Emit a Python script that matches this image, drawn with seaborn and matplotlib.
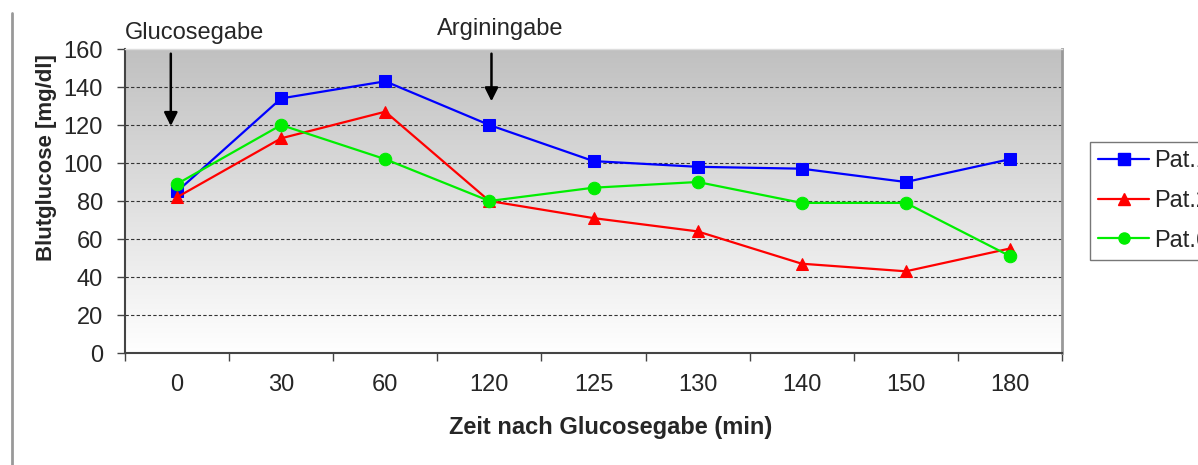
import numpy as np
import pandas as pd
import matplotlib
matplotlib.use("Agg")
import matplotlib.pyplot as plt
import seaborn as sns
from matplotlib.colors import LinearSegmentedColormap
from matplotlib.lines import Line2D

zeit = ["0", "30", "60", "120", "125", "130", "140", "150", "180"]
pat1 = [85, 134, 143, 120, 101, 98, 97, 90, 102]
pat2 = [82, 113, 127, 80, 71, 64, 47, 43, 55]
pat6 = [89, 120, 102, 80, 87, 90, 79, 79, 51]
series_names = ["Pat.1", "Pat.2", "Pat.6"]
y_ticks = [0, 20, 40, 60, 80, 100, 120, 140, 160]

sns.set_style("white")
plt.rcParams['font.family'] = ['Liberation Sans', 'DejaVu Sans']

rows = []
for name, vals in zip(series_names, [pat1, pat2, pat6]):
    for i, v in enumerate(vals):
        rows.append({"pos": i, "Zeit": zeit[i], "value": v, "Patient": name})
df = pd.DataFrame(rows)

FS = 17
fig = plt.figure(figsize=(11.98, 4.65), dpi=100)
ax = fig.add_axes([125/1198, 1 - 353/465, (1062-125)/1198, (353-49)/465])

# gradient background
cmap = LinearSegmentedColormap.from_list("bg", ["#c0c0c0", "#ffffff"])
grad = np.linspace(0, 1, 256).reshape(-1, 1)
ax.imshow(grad, cmap=cmap, aspect="auto", extent=[0, 1, 0, 1],
          transform=ax.transAxes, zorder=0, interpolation="bicubic", vmin=0, vmax=1.0)

colors = {"Pat.1": "#0000ff", "Pat.2": "#ff0000", "Pat.6": "#00ee00"}
markers = {"Pat.1": "s", "Pat.2": "^", "Pat.6": "o"}
for name in series_names:
    sub = df[df["Patient"] == name]
    sns.lineplot(data=sub, x="pos", y="value", ax=ax, color=colors[name],
                 marker=markers[name], markersize=9,
                 markeredgecolor=colors[name], linewidth=1.6, zorder=3,
                 legend=False)

ax.set_xlim(-0.5, len(zeit) - 0.5)
ax.set_ylim(0, 160)
ax.set_yticks(y_ticks)
ax.set_yticklabels([str(t) for t in y_ticks], fontsize=FS)
for t in y_ticks[1:-1]:
    ax.axhline(t, color="#333333", linestyle=(0, (3, 2)), linewidth=0.8, zorder=1)

ax.set_xticks(np.arange(-0.5, len(zeit) + 0.5, 1))
ax.set_xticklabels([])
ax.set_xticks(np.arange(len(zeit)), minor=True)
ax.set_xticklabels(zeit, minor=True, fontsize=FS)
ax.tick_params(axis="x", which="major", direction="out", length=6, width=1, color="#444444", bottom=True)
ax.tick_params(axis="x", which="minor", length=0, pad=15)
ax.tick_params(axis="y", direction="out", length=6, width=1, color="#444444", left=True, pad=10)

for side in ["left", "bottom"]:
    ax.spines[side].set_color("#444444")
    ax.spines[side].set_linewidth(1.5)
ax.spines["right"].set_color("#999999")
ax.spines["right"].set_linewidth(2)
ax.spines["top"].set_color("#dddddd")
ax.spines["top"].set_linewidth(1)

ax.set_xlabel("Zeit nach Glucosegabe (min)", fontsize=FS, fontweight="bold")
ax.xaxis.label.set_va("center")
ax.xaxis.set_label_coords((611 - 125) / 937, (353 - 427) / 304)
ax.set_ylabel("Blutglucose [mg/dl]", fontsize=16, fontweight="bold")
ax.yaxis.label.set_va("center")
ax.yaxis.set_label_coords((47 - 125) / 937, (353 - 158) / 304)

# annotations
ax.annotate("", xy=(-0.06, 118), xytext=(-0.06, 159),
            arrowprops=dict(arrowstyle="-|>", color="black", lw=1.8, mutation_scale=20), zorder=4)
ax.text(0.17, (353 - 33) / 304, "Glucosegabe", transform=ax.get_xaxis_transform(),
        ha="center", va="center", fontsize=FS)
ax.annotate("", xy=(3.02, 131), xytext=(3.02, 159),
            arrowprops=dict(arrowstyle="-|>", color="black", lw=1.8, mutation_scale=20), zorder=4)
ax.text(3.1, (353 - 29) / 304, "Arginingabe", transform=ax.get_xaxis_transform(),
        ha="center", va="center", fontsize=FS)

# legend (clipped at figure edge like the reference)
handles = [Line2D([0], [0], color=colors[n], marker=markers[n], markersize=8,
                  linewidth=1.6) for n in series_names]
leg = fig.legend(handles, series_names, loc="upper left",
                 bbox_to_anchor=(1090/1198, 1 - 142/465), frameon=True,
                 fontsize=FS, handlelength=2.15, labelspacing=0.75,
                 borderpad=0.35, fancybox=False, handletextpad=0.2,
                 borderaxespad=0)
leg.get_frame().set_edgecolor("#555555")
leg.get_frame().set_linewidth(1)

# left border line of the figure frame
fig.add_artist(Line2D([12/1198, 12/1198], [0, 1 - 13/465], transform=fig.transFigure,
                      color="#999999", linewidth=2))

fig.savefig("out.png", dpi=100)
